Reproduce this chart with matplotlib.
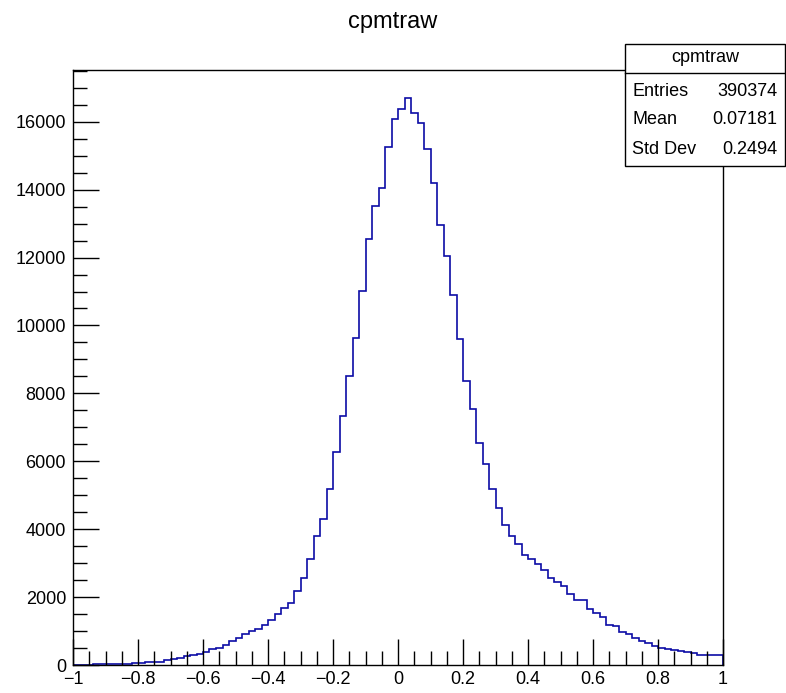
import numpy as np
import matplotlib
matplotlib.use("Agg")
import matplotlib.pyplot as plt
from matplotlib.patches import Rectangle
from matplotlib.lines import Line2D
from matplotlib.ticker import MultipleLocator

plt.rcParams['font.family'] = ['Liberation Sans', 'DejaVu Sans']

# ---- data -------------------------------------------------------------
title = "cpmtraw"
x_min, x_max, n_bins = -1.0, 1.0, 100
counts = [
    0, 0, 0, 20, 25, 25, 30, 35, 35, 45,
    55, 75, 85, 100, 135, 165, 205, 255, 290, 320,
    390, 470, 490, 600, 705, 800, 910, 1000, 1050, 1175,
    1335, 1500, 1675, 1825, 2190, 2550, 3110, 3800, 4305, 5180,
    6280, 7345, 8500, 9643, 11020, 12535, 13510, 14060, 15255, 16080,
    16370, 16690, 16270, 15960, 15205, 14190, 12950, 12040, 10890, 9600,
    8367, 7532, 6525, 5920, 5185, 4620, 4115, 3805, 3565, 3250,
    3108, 2980, 2785, 2558, 2430, 2318, 2101, 1915, 1905, 1660,
    1532, 1414, 1188, 1139, 982, 913, 805, 707, 638, 570,
    491, 480, 442, 403, 373, 344, 305, 300, 300, 300,
]
xtick_values = [-1, -0.8, -0.6, -0.4, -0.2, 0, 0.2, 0.4, 0.6, 0.8, 1]
xtick_labels = ["\u22121", "\u22120.8", "\u22120.6", "\u22120.4", "\u22120.2",
                "0", "0.2", "0.4", "0.6", "0.8", "1"]
ytick_values = [0, 2000, 4000, 6000, 8000, 10000, 12000, 14000, 16000]
ytick_labels = ["0", "2000", "4000", "6000", "8000", "10000", "12000", "14000", "16000"]
stat_names = ["Entries", "Mean", "Std Dev"]
stat_values = ["390374", "0.07181", "0.2494"]

# ---- figure -----------------------------------------------------------
W, H = 786, 693
fig = plt.figure(figsize=(W / 100, H / 100), dpi=100)
L, R, T, B = 73, 723, 70, 665
ax = fig.add_axes([L / W, 1 - B / H, (R - L) / W, (B - T) / H])

edges = np.linspace(x_min, x_max, n_bins + 1)
ax.stairs(counts, edges, color="#0c0ca6", linewidth=1.2)

ax.set_xlim(x_min, x_max)
ax.set_ylim(0, max(counts) * 1.05)

ax.set_xticks(xtick_values)
ax.set_xticklabels(xtick_labels)
ax.set_yticks(ytick_values)
ax.set_yticklabels(ytick_labels)
ax.xaxis.set_minor_locator(MultipleLocator(0.05))
ax.yaxis.set_minor_locator(MultipleLocator(500))

ax.tick_params(axis='both', which='both', direction='in', top=False, right=False,
               labelsize=13, color='black', width=1.0)
ax.tick_params(axis='x', which='major', length=19, pad=4)
ax.tick_params(axis='x', which='minor', length=10)
ax.tick_params(axis='y', which='major', length=19, pad=5)
ax.tick_params(axis='y', which='minor', length=10)
for s in ax.spines.values():
    s.set_linewidth(1.0)

fig.text(393 / W, 1 - 22 / H, title, ha='center', va='center', fontsize=17)

# ---- stats box --------------------------------------------------------
bx0, bx1, by0, by1 = 625, 785, 44, 166
fig.patches.append(Rectangle((bx0 / W, 1 - by1 / H), (bx1 - bx0) / W, (by1 - by0) / H,
                             transform=fig.transFigure, facecolor='white',
                             edgecolor='black', linewidth=1.0, zorder=5))
fig.lines.append(Line2D([bx0 / W, bx1 / W], [1 - 73 / H, 1 - 73 / H],
                        transform=fig.transFigure, color='black', linewidth=1.0, zorder=6))
fig.text((bx0 + bx1) / 2 / W, 1 - 58 / H, title, ha='center', va='center',
         fontsize=13, zorder=7)
row_y = [91, 120, 149]
for name, val, yy in zip(stat_names, stat_values, row_y):
    fig.text(632 / W, 1 - yy / H, name, ha='left', va='center', fontsize=13, zorder=7)
    fig.text(777 / W, 1 - yy / H, val, ha='right', va='center', fontsize=13, zorder=7)

fig.savefig("out.png", dpi=100)
